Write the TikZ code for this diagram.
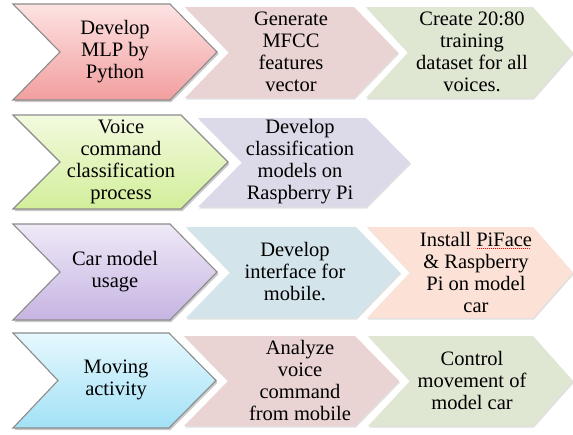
\documentclass[tikz,border=0pt]{standalone}
\usepackage{fontspec}
\setmainfont{Liberation Serif}
\usetikzlibrary{shadows}
\definecolor{bordergray}{HTML}{8C8C8C}
\definecolor{redtop}{HTML}{FDE3E3}
\definecolor{redbot}{HTML}{F29E9E}
\definecolor{greentop}{HTML}{F3FADF}
\definecolor{greenbot}{HTML}{D2EE9A}
\definecolor{purptop}{HTML}{EFE9F7}
\definecolor{purpbot}{HTML}{C6B4E2}
\definecolor{cyantop}{HTML}{E6F8FE}
\definecolor{cyanbot}{HTML}{A2E1F6}
\definecolor{rosesec}{HTML}{E9D3D3}
\definecolor{sagesec}{HTML}{DFE7D3}
\definecolor{lavsec}{HTML}{DCDAE8}
\definecolor{bluesec}{HTML}{D3E4EA}
\definecolor{peachsec}{HTML}{FCE1D6}
\newsavebox\spellbox
\newcommand\spellmark[1]{\sbox\spellbox{#1}\rlap{\raisebox{-2.8pt}{\color{red}\leaders\hbox to 2pt{\hss\rule{1pt}{0.7pt}\hss}\hskip\wd\spellbox}}\usebox\spellbox}
% [style]{left}{notch}{corner}{tip}{top}{bottom}
\newcommand\chevronshape[7][]{%
  \path[#1] (#2,#6) -- (#4,#6) -- (#5,{(#6+#7)/2}) -- (#4,#7) -- (#2,#7) -- (#3,{(#6+#7)/2}) -- cycle;}
\tikzset{
  prim/.style 2 args={draw=bordergray, line width=1.1pt, line join=miter, top color=#1, bottom color=#2,
    drop shadow={shadow xshift=1.5pt, shadow yshift=-2pt, opacity=0.35, fill=black!60}},
  sec/.style={fill=#1, drop shadow={shadow xshift=1pt, shadow yshift=-1.5pt, opacity=0.12, fill=black}},
  txt/.style={align=center, font=\fontsize{20.5}{22}\selectfont, inner sep=0pt, text=black}
}
\begin{document}
\begin{tikzpicture}[x=1pt, y=-1pt]
\useasboundingbox (0,0) rectangle (573,434);
\fill[white] (0,0) rectangle (573,434);
% Row 1
\chevronshape[sec=rosesec]{185}{229}{354}{398}{7}{98}
\chevronshape[sec=sagesec]{366}{408}{533}{573}{7}{98}
\chevronshape[prim={redtop}{redbot}]{13}{60}{170}{217}{4}{100}
\node[txt] (p1) at (115,52) {Develop\\MLP by\\Python};
\node[txt] (s11) at (291,52) {Generate\\MFCC\\features\\vector};
\node[txt] (s12) at (472,52) {Create 20:80\\training\\dataset for all\\voices.};
% Row 2
\chevronshape[sec=lavsec]{198}{242}{366}{410}{118}{207}
\chevronshape[prim={greentop}{greenbot}]{13}{60}{181}{228}{115}{209}
\node[txt] (p2) at (121,162) {Voice\\command\\classification\\process};
\node[txt] (s21) at (300,162) {Develop\\classification\\models on\\Raspberry Pi};
% Row 3
\chevronshape[sec=bluesec]{186}{230}{356}{400}{227}{318}
\chevronshape[sec=peachsec]{367}{410}{533}{573}{227}{318}
\chevronshape[prim={purptop}{purpbot}]{13}{60}{170}{217}{224}{320}
\node[txt] (p3) at (115,272) {Car model\\usage};
\node[txt] (s31) at (295,272) {Develop\\interface for\\mobile.};
\node[txt] (s32) at (476,272) {Install \spellmark{PiFace}\\\& Raspberry\\Pi on model\\car};
% Row 4
\chevronshape[sec=rosesec]{184}{228}{355}{399}{336}{426}
\chevronshape[sec=sagesec]{368}{410}{533}{573}{336}{426}
\chevronshape[prim={cyantop}{cyanbot}]{13}{58}{169}{216}{333}{428}
\node[txt] (p4) at (116,380) {Moving\\activity};
\node[txt] (s41) at (300,380) {Analyze\\voice\\command\\from mobile};
\node[txt] (s42) at (472,380) {Control\\movement of\\model car};
\end{tikzpicture}
\end{document}
